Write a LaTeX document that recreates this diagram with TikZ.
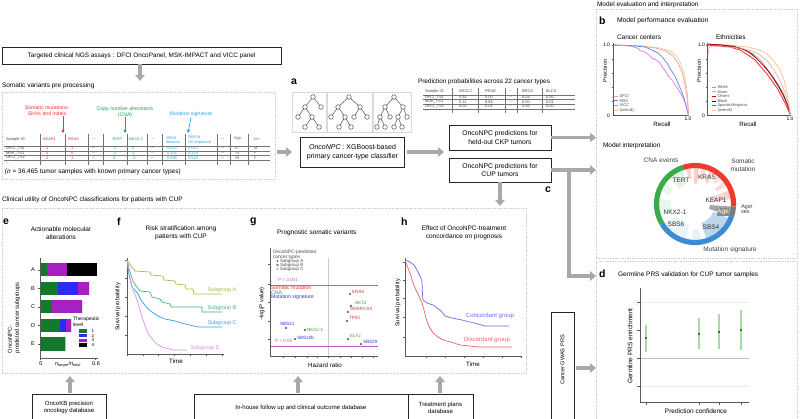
\documentclass[tikz,border=0pt]{standalone}
\usepackage{fontspec}
\setmainfont{Liberation Sans}
\usetikzlibrary{arrows.meta,calc,shapes.geometric}
\definecolor{agray}{HTML}{A9A9A9}
\definecolor{smred}{HTML}{F0303C}
\definecolor{cnagreen}{HTML}{1FA855}
\definecolor{sigblue}{HTML}{2BA6E3}
\definecolor{pmag}{HTML}{CC55CC}
\definecolor{gred}{HTML}{EE3333}
\definecolor{ggreen}{HTML}{33AA33}
\definecolor{gblue}{HTML}{3535E0}
\definecolor{egreen}{HTML}{137A2B}
\definecolor{eblue}{HTML}{2B2BF2}
\definecolor{emag}{HTML}{A521C2}
\definecolor{fA}{HTML}{B6B446}
\definecolor{fB}{HTML}{3DB87A}
\definecolor{fC}{HTML}{3D9BE0}
\definecolor{fD}{HTML}{DA8FE8}
\definecolor{hblue}{HTML}{6B6BEE}
\definecolor{hred}{HTML}{EE5F6B}
\definecolor{bsalmon}{HTML}{F39C9C}
\definecolor{bblue}{HTML}{5C86D8}
\definecolor{bviolet}{HTML}{E27BE2}
\definecolor{borange}{HTML}{F7C893}
\definecolor{dred}{HTML}{EE3B2E}
\definecolor{dgreen}{HTML}{3BAA4A}
\definecolor{dblue}{HTML}{3B8CD0}
\definecolor{dgray}{HTML}{7A7A7A}
\definecolor{prsg}{HTML}{A9D9A9}
\definecolor{prsd}{HTML}{2E7D32}
\newcommand\fsz[2]{\fontsize{#1}{#2}\selectfont}
\newcommand\annsec[5]{\fill[#5] (#1:#3) arc[start angle=#1,end angle=#2,radius=#3] -- (#2:#4) arc[start angle=#2,end angle=#1,radius=#4] -- cycle;}
\tikzset{
  blackbox/.style={draw=black!85, line width=0.75pt, fill=white, align=center, inner sep=1pt},
  regionbox/.style={draw=black!20, line width=0.7pt, densely dotted},
  fatarrow/.style={draw=agray, line width=3.4pt, -{Triangle[length=6pt,width=9.5pt]}},
  plbl/.style={font=\bfseries\fsz{10.5}{11}},
  tn/.style={circle, draw=black!75, fill=white, line width=0.45pt, minimum size=4.6pt, inner sep=0pt},
  tedge/.style={draw=black!75, line width=0.45pt},
  tbox/.style={draw=black!15, line width=0.5pt},
  axln/.style={draw=black!65, line width=0.4pt},
  tk/.style={draw=black!65, line width=0.35pt},
  tabln/.style={draw=black!55, line width=0.4pt},
  t4/.style={font=\fsz{4}{4.6}},
  t45/.style={font=\fsz{4.5}{5.2}},
  t5/.style={font=\fsz{5}{5.8}},
  t55/.style={font=\fsz{5.5}{6.4}},
  t6/.style={font=\fsz{6.2}{7.3}},
  t65/.style={font=\fsz{6.5}{7.6}},
  t7/.style={font=\fsz{7}{8.2}},
  gdot/.style={circle, fill=black!70, minimum size=2.2pt, inner sep=0pt},
}
\begin{document}
\begin{tikzpicture}[x=1pt,y=-1pt, every node/.style={inner sep=0pt, outer sep=0pt}]
\useasboundingbox[fill=white] (0,0) rectangle (800,419);

%================ region boxes =================
\node[regionbox, minimum width=273, minimum height=87, anchor=north west] (sombox) at (2,92) {};
\node[regionbox, minimum width=201, minimum height=249, anchor=north west] (bbox) at (596,9) {};
\node[regionbox, minimum width=201, minimum height=160, anchor=north west] (dbox) at (596,261) {};
\node[regionbox, minimum width=524, minimum height=165, anchor=north west] (cbox) at (2,208) {};

%================ top left =================
\node[blackbox, minimum width=279, minimum height=17, font=\fsz{6.4}{7.6}] (ngs) at (141.5,55.5) {Targeted clinical NGS assays : DFCI OncoPanel, MSK-IMPACT and VICC panel};
\coordinate (somtip) at (140,81);
\draw[fatarrow] (ngs.south -| somtip) -- (somtip);
\node[t65, anchor=west] (somlbl) at (2,86) {Somatic variants pre processing};

\node[font=\fsz{5.2}{6}, text=smred, align=center] (smt) at (47,111) {Somatic mutations:\\SNVs and indels};
\node[font=\fsz{5.2}{6}, text=cnagreen, align=center] (cnat) at (125,112) {Copy number alterations\\(CNA)};
\node[font=\fsz{5.2}{6}, text=sigblue] (sigt) at (191,114) {Mutation signature};
\coordinate (smtip) at (63,133);
\coordinate (cnatip) at (125,133);
\coordinate (sigtip) at (188,133);
\draw[smred, line width=0.7pt, -{Triangle[length=3pt,width=3pt]}] (smt.south -| smtip) -- (smtip);
\draw[cnagreen, line width=0.7pt, -{Triangle[length=3pt,width=3pt]}] (cnat.south -| cnatip) -- (cnatip);
\draw[sigblue, line width=0.7pt, -{Triangle[length=3pt,width=3pt]}] ($(sigt.south)+(0,1)$) -- (sigtip);

% somatic table
\node[t4, anchor=west, text=black!70] (sh0) at (6,139) {Sample ID};
\node[t4, anchor=west, text=smred] (sh1) at (43,139) {KEAP1};
\node[t4, anchor=west, text=smred] (sh2) at (68,139) {KRAS};
\node[t4, anchor=west] (sh3) at (92,139) {...};
\node[t4, anchor=west, text=cnagreen] (sh4) at (112,139) {TERT};
\node[t4, anchor=west, text=cnagreen] (sh5) at (129,139) {NKX2-1};
\node[t4, anchor=west] (sh6) at (151,139) {...};
\node[t4, anchor=west, text=sigblue, align=left] (sh7) at (166,140) {SBS4\\tobacco};
\node[t4, anchor=west, text=sigblue, align=left] (sh8) at (188,140) {SBS7a\\UV exposure};
\node[t4, anchor=west] (sh9) at (221,139) {...};
\node[t4, anchor=west, text=black!60] (sh10) at (234,139) {Age};
\node[t4, anchor=west, text=black!45] (sh11) at (253,139) {Sex};
\foreach \yy in {146,150.8,155.5,160} \draw[tabln] (4,\yy) -- (270,\yy);
\foreach \xx in {40,65,88,103,127,147,162,185,217,230,248} \draw[tabln] (\xx,134) -- (\xx,165);
\foreach \sid/\ka/\kr/\te/\nk/\sa/\sb/\ag/\sx/\yy [count=\i] in {DFCI\_TS1/1/1/-2/0/0.432/0.012/67/M/148.5, MSK\_TS1/3/0/-1/2/0.101/0.133/75/F/153.2, DFCI\_TS2/2/1/2/-1/0.626/0.542/59/F/157.8}{
  \node[t4, anchor=west, text=black!70] (sra\i) at (6,\yy) {\sid};
  \node[t4, anchor=west, text=smred] (srb\i) at (46,\yy) {\ka};
  \node[t4, anchor=west, text=smred] (src\i) at (71,\yy) {\kr};
  \node[t4, anchor=west] (srd\i) at (92,\yy) {...};
  \node[t4, anchor=west, text=cnagreen] (sre\i) at (113,\yy) {\te};
  \node[t4, anchor=west, text=cnagreen] (srf\i) at (132,\yy) {\nk};
  \node[t4, anchor=west] (srg\i) at (151,\yy) {...};
  \node[t4, anchor=west, text=sigblue] (srh\i) at (167,\yy) {\sa};
  \node[t4, anchor=west, text=sigblue] (sri\i) at (188,\yy) {\sb};
  \node[t4, anchor=west] (srj\i) at (221,\yy) {...};
  \node[t4, anchor=west, text=black!60] (srk\i) at (235,\yy) {\ag};
  \node[t4, anchor=west, text=black!60] (srl\i) at (254,\yy) {\sx};
}
\node[t4, anchor=west] (srdots) at (6,163.5) {...};
\node[t65, anchor=west] (nsamp) at (5,172) {(\textit{n} = 36,465 tumor samples with known primary cancer types)};

%================ panel a =================
\node[plbl, anchor=west] (alab) at (291,82) {a};
\node[tbox, minimum width=34, minimum height=40, anchor=north west] (tb1) at (292,92) {};
\node[tbox, minimum width=45, minimum height=40, anchor=north west] (tb2) at (327,92) {};
\node[tbox, minimum width=38, minimum height=40, anchor=north west] (tb3) at (373,92) {};
% tree 1
\node[tn] (t1r) at (313,97) {};
\node[tn] (t1a) at (305,107) {};
\node[tn] (t1b) at (321,107) {};
\node[tn] (t1c) at (298,117) {};
\node[tn] (t1d) at (312,117) {};
\node[tn] (t1e) at (305,127) {};
\node[tn] (t1f) at (319,127) {};
\draw[tedge] (t1r)--(t1a) (t1r)--(t1b) (t1a)--(t1c) (t1a)--(t1d) (t1d)--(t1e) (t1d)--(t1f);
% tree 2
\node[tn] (t2r) at (349,97) {};
\node[tn] (t2a) at (338,107) {};
\node[tn] (t2b) at (360,107) {};
\node[tn] (t2c) at (331,117) {};
\node[tn] (t2d) at (345,117) {};
\node[tn] (t2e) at (354,117) {};
\node[tn] (t2f) at (367,117) {};
\node[tn] (t2g) at (339,127) {};
\node[tn] (t2h) at (351,127) {};
\draw[tedge] (t2r)--(t2a) (t2r)--(t2b) (t2a)--(t2c) (t2a)--(t2d) (t2b)--(t2e) (t2b)--(t2f) (t2d)--(t2g) (t2d)--(t2h);
% tree 3
\node[tn] (t3r) at (394,97) {};
\node[tn] (t3a) at (385,107) {};
\node[tn] (t3b) at (403,107) {};
\node[tn] (t3c) at (380,117) {};
\node[tn] (t3d) at (390,117) {};
\node[tn] (t3e) at (398,117) {};
\node[tn] (t3f) at (407,117) {};
\node[tn] (t3g) at (377,127) {};
\node[tn] (t3h) at (385,127) {};
\node[tn] (t3i) at (394,127) {};
\node[tn] (t3j) at (402,127) {};
\draw[tedge] (t3r)--(t3a) (t3r)--(t3b) (t3a)--(t3c) (t3a)--(t3d) (t3b)--(t3e) (t3b)--(t3f) (t3c)--(t3g) (t3c)--(t3h) (t3e)--(t3i) (t3e)--(t3j);

\node[blackbox, minimum width=104, minimum height=30, font=\fsz{7}{8.4}] (clf) at (352.5,152) {\textit{OncoNPC} : XGBoost-based\\primary cancer-type classifier};
\draw[fatarrow] (sombox.east |- clf.west) ++(2,0) -- (clf.west -| tb1.west);

%================ predictions =================
\node[font=\fsz{6.4}{7.4}, anchor=west] (pptitle) at (418,82) {Prediction probabilities across 22 cancer types};
\node[t4, anchor=west, text=black!70] (ph0) at (425,91) {Sample ID};
\node[t4, anchor=west, text=black!70] (ph1) at (459,91) {NSCLC};
\node[t4, anchor=west, text=black!70] (ph2) at (485,91) {PRAD};
\node[t4, anchor=west, text=black!70] (ph3) at (509,91) {...};
\node[t4, anchor=west, text=black!70] (ph4) at (522,91) {BRCA};
\node[t4, anchor=west, text=black!70] (ph5) at (546,91) {BLCA};
\foreach \yy in {95,99.6,104.2,108.8} \draw[tabln] (423,\yy) -- (575,\yy);
\foreach \xx in {452,478,505,517,542} \draw[tabln] (\xx,88) -- (\xx,113);
\foreach \sid/\va/\vb/\vc/\vd/\yy [count=\i] in {DFCI\_TS1/0.92/0.00/0.04/0.00/97.3, MSK\_TS1/0.11/0.85/0.00/0.01/101.9, DFCI\_TS2/0.01/0.01/0.95/0.00/106.5}{
  \node[t4, anchor=west, text=black!70] (pra\i) at (425,\yy) {\sid};
  \node[t4, anchor=west, text=black!70] (prb\i) at (459,\yy) {\va};
  \node[t4, anchor=west, text=black!70] (prc\i) at (485,\yy) {\vb};
  \node[t4, anchor=west, text=black!70] (prd\i) at (509,\yy) {...};
  \node[t4, anchor=west, text=black!70] (pre\i) at (522,\yy) {\vc};
  \node[t4, anchor=west, text=black!70] (prf\i) at (546,\yy) {\vd};
}
\node[t4, anchor=west] (prdots) at (425,111.5) {...};

\node[blackbox, minimum width=102, minimum height=25, font=\fsz{6.8}{8.2}] (ckp) at (500,137.5) {OncoNPC predictions for\\held-out CKP tumors};
\node[blackbox, minimum width=102, minimum height=24, font=\fsz{6.8}{8.2}] (cup) at (500,170) {OncoNPC predictions for\\CUP tumors};
\coordinate (clfend) at (444,152);
\draw[fatarrow] (clf.east) ++(2,0) -- (clfend);

\draw[fatarrow] (ckp.east) -- (bbox.west |- ckp.east);
\coordinate (cupcorner) at (569,170);
\coordinate (cupdown) at (569,276);
\draw[fatarrow] (cup.east) -- (bbox.west |- cup.east);
\draw[fatarrow] (cupcorner) -- (cupdown) -- (dbox.west |- cupdown);
\coordinate (cuptip) at (500,206);
\draw[fatarrow] (cup.south) -- (cuptip);
\node[plbl] (clab) at (548,190) {c};

%================ panel b =================
\node[t65, anchor=west] (mei) at (597,4.5) {Model evaluation and interpretation};
\node[plbl, anchor=west] (blab) at (599,21) {b};
\node[font=\fsz{6.8}{7.6}, anchor=west] (mpe) at (617,21) {Model performance evaluation};
\node[t65, anchor=west] (cct) at (617,37) {Cancer centers};
\node[t65, anchor=west] (etht) at (716,37) {Ethnicities};
% cancer centers axes
\draw[axln] (613,43) -- (613,115) -- (689,115);
\foreach \yy in {45,59,73,87,101} \draw[tk] (611.5,\yy) -- (613,\yy);
\foreach \xx in {628,643,658,673,688} \draw[tk] (\xx,115) -- (\xx,116.5);
\node[t5, anchor=east] (ccy1) at (610,45) {1.0};
\node[t5, anchor=east] (ccy0) at (610,116) {0};
\node[t5] (ccx1) at (688,119) {1.0};
\node[t6] (ccrec) at (662,124) {Recall};
\node[t55, rotate=90] (ccprec) at (605,71) {Precision};
\draw[borange, line width=0.7pt] plot coordinates {(614,45) (643,46) (660,48) (670,51) (676,55) (680,62) (683,70) (685,78) (687,90) (688,102) (688.5,114)};
\draw[bsalmon, line width=0.7pt] plot coordinates {(614,45) (640,46) (655,48) (666,51) (673,56) (678,63) (682,72) (685,84) (687,97) (688.5,114)};
\draw[bblue, line width=0.7pt] plot coordinates {(614,45) (635,46) (645,47) (652,50) (658,53) (663,58) (667,63) (671,70) (675,76) (678,83) (681,90) (684,98) (686,105) (688,114)};
\draw[bviolet, line width=0.7pt] plot coordinates {(614,45) (630,46) (637,48) (641,51) (645,52) (649,55) (652,58) (656,60) (660,63) (663,68) (666,72) (669,77) (672,80) (675,85) (678,89) (681,94) (684,100) (686,106) (688,114)};
\foreach \c/\t/\yy [count=\i] in {bsalmon/DFCI/96, bblue/MSK/100.8, bviolet/VICC/105.6, borange/(overall)/110.4}{
  \draw[\c, line width=0.7pt] (614,\yy) -- (618,\yy);
  \node[t4, anchor=west, text=black!70] (ccl\i) at (619.5,\yy) {\t};
}
% ethnicities axes
\draw[axln] (707,43) -- (707,115) -- (791,115);
\foreach \yy in {45,59,73,87,101} \draw[tk] (705.5,\yy) -- (707,\yy);
\foreach \xx in {724,740,757,773,790} \draw[tk] (\xx,115) -- (\xx,116.5);
\node[t5, anchor=east] (ety1) at (705,45) {1.0};
\node[t5, anchor=east] (ety0) at (705,116) {0};
\node[t5] (etx1) at (790,119) {1.0};
\node[t6] (etrec) at (748,124) {Recall};
\node[t55, rotate=90] (etprec) at (699,71) {Precision};
\draw[borange, line width=0.8pt] plot coordinates {(707,44) (730,45) (747,47) (760,50) (767,54) (774,61) (780,70) (784,80) (787,93) (789,104) (790,114)};
\draw[black!40, line width=0.6pt] plot coordinates {(707,45) (725,46) (740,48) (750,52) (757,57) (763,63) (768,70) (773,77) (778,84) (783,93) (787,103) (790,114)};
\draw[black!85, line width=0.6pt] plot coordinates {(707,44) (722,45) (735,47) (745,50) (752,54) (758,60) (764,66) (769,72) (774,79) (779,87) (784,96) (788,106) (790,114)};
\draw[red!75!black, line width=0.6pt] plot coordinates {(707,44) (720,45) (733,46) (743,49) (750,53) (756,58) (762,64) (768,71) (773,78) (778,86) (783,95) (787,104) (790,114)};
\draw[red!85!white, line width=0.8pt] plot coordinates {(707,45) (718,46) (730,47) (740,50) (748,55) (755,60) (761,67) (767,74) (772,81) (777,88) (782,97) (786,105) (790,114)};
\draw[hred!60!white, line width=0.6pt] plot coordinates {(708,55) (709,48) (712,46) (725,47) (740,48) (752,51) (760,55) (768,62) (774,70) (779,79) (784,90) (788,102) (790,114)};
\foreach \c/\t/\yy [count=\i] in {black!40/White/87, hred!60!white/Asian/91.7, red!75!black/Others/96.4, black!85/Black/101.1, red!85!white/{Spanish/hispanic}/105.8, borange/(overall)/110.5}{
  \draw[\c, line width=0.7pt] (712,\yy) -- (716,\yy);
  \node[t4, anchor=west, text=black!70] (etl\i) at (717.5,\yy) {\t};
}
% model interpretation
\node[t65, anchor=west] (mint) at (603,146) {Model interpretation};
\begin{scope}[shift={(695,204)}, yscale=-1]
  \annsec{104}{97}{36}{26}{dred!22}
  \annsec{92}{84}{36}{20}{dred!25}
  \annsec{80}{72}{36}{27}{dred!18}
  \annsec{66}{58}{36}{24}{dred!20}
  \annsec{52}{44}{36}{29}{dred!15}
  \annsec{38}{30}{36}{25}{dred!18}
  \annsec{22}{8}{36}{17}{dred!22}
  \annsec{-4}{-19}{36}{15}{black!35}
  \annsec{-23}{-72}{36}{20}{dblue!35}
  \annsec{-80}{-95}{36}{26}{dblue!12}
  \annsec{-105}{-148}{36}{22}{dblue!10}
  \annsec{198}{172}{36}{24}{dgreen!12}
  \annsec{160}{145}{36}{27}{dgreen!10}
  \annsec{135}{110}{36}{22}{dgreen!14}
  \draw[dred, line width=5.2pt] (108:38.5) arc[start angle=108, end angle=-4, radius=38.5];
  \draw[dgray, line width=5.2pt] (-4:38.5) arc[start angle=-4, end angle=-19, radius=38.5];
  \draw[dblue, line width=5.2pt] (-19:38.5) arc[start angle=-19, end angle=-149, radius=38.5];
  \draw[dgreen, line width=5.2pt] (211:38.5) arc[start angle=211, end angle=108, radius=38.5];
\end{scope}
\node[t65, text=black!75] (dcna) at (661,160) {CNA events};
\node[t65, text=black!75, align=center] (dsom) at (743,165) {Somatic\\mutation};
\node[t65, text=black!80] (dtert) at (681,180) {TERT};
\node[t65, text=black!80] (dkras) at (707,177) {KRAS};
\node[t65, text=black!80] (dkeap) at (716,200) {KEAP1};
\node[t65, text=white, fill=black!45, inner sep=0.6pt] (dage) at (723,212) {Age};
\node[font=\fsz{5.6}{5.8}, text=black!75, align=left, anchor=west] (dagesex) at (741,209) {Age/\\sex};
\node[t65, text=black!80] (dnkx) at (675,212) {NKX2-1};
\node[t65, text=black!80] (dsbs6) at (676,224) {SBS6};
\node[t65, text=black!80] (dsbs4) at (711,227) {SBS4};
\node[t65, text=black!75] (dmut) at (730,250) {Mutation signature};

%================ panel d =================
\node[plbl, anchor=west] (dlab) at (599,274) {d};
\node[t65, anchor=west] (dtitle) at (618,275) {Germline PRS validation for CUP tumor samples};
\draw[black!8, line width=0.5pt] (640,302) -- (749,302) (640,386) -- (749,386);
\draw[black!25, line width=0.5pt] (640,358) -- (749,358);
\draw[axln] (640,288) -- (640,402) -- (749,402);
\foreach \yy in {302,330,358,386} \draw[tk] (637,\yy) -- (640,\yy);
\foreach \xx/\ya/\yb/\ym [count=\i] in {646/325/352/338, 699/318/349/334, 719/314/349/332, 741/310/350/330}{
  \draw[tk] (\xx,402) -- (\xx,405);
  \draw[prsg, line width=1.1pt] (\xx,\ya) -- (\xx,\yb);
  \node[fill=prsd, minimum size=1.8pt] (prs\i) at (\xx,\ym) {};
}
\node[t65, rotate=90] (prsy) at (630,346) {Germline PRS enrichment};
\node[t65] (prsx) at (696,411) {Prediction confidence};
\node[blackbox, minimum width=23, minimum height=118, anchor=north west] (gwas) at (551,312) {};
\node[font=\fsz{5.6}{6}, rotate=90] (gwast) at (562.5,360) {Cancer GWAS PRS};
\coordinate (gwasy) at (0,368);
\draw[fatarrow] ($(gwas.east |- gwasy)+(2,0)$) -- (dbox.west |- gwasy);

%================ clinical utility =================
\node[t65, anchor=west] (cutl) at (2,200) {Clinical utility of OncoNPC classifications for patients with CUP};
% e
\node[plbl, anchor=west] (elab) at (3,222) {e};
\node[t65, align=center] (etitle) at (61,233) {Actionable molecular\\alterations};
\node[font=\fsz{5.7}{6.8}, rotate=90, anchor=north west, align=left] (eylab) at (8,353) {OncoNPC-\\predicted cancer subgroups};
\draw[axln] (40,258) -- (40,358) -- (98,358);
\foreach \xx in {40,95} \draw[tk] (\xx,358) -- (\xx,360);
\foreach \yc/\g/\b/\m/\k/\lt [count=\i] in {270/47/47/67/97/A, 288.5/58/78/89/89/B, 307/52/52/82/82/C, 325.5/60/66/71/71/D, 344/65/65/65/65/E}{
  \fill[egreen] (41,\yc-6.5) rectangle (\g,\yc+6.5);
  \fill[eblue] (\g,\yc-6.5) rectangle (\b,\yc+6.5);
  \fill[emag] (\b,\yc-6.5) rectangle (\m,\yc+6.5);
  \fill[black] (\m,\yc-6.5) rectangle (\k,\yc+6.5);
  \draw[tk] (38,\yc) -- (40,\yc);
  \node[t55] (elt\i) at (33,\yc) {\lt};
}
\node[t5, anchor=west, align=left] (eleg) at (73,322) {Therapeutic\\level};
\foreach \c/\t/\yy [count=\i] in {egreen/1/331, eblue/2/335.7, emag/3/340.4, black/4/345.1}{
  \fill[\c] (79,\yy-1.6) rectangle (87,\yy+1.6);
  \node[t45] (eln\i) at (93,\yy) {\t};
}
\node[t55] (ex0) at (41,364) {0};
\node[t55] (exl) at (68,364.5) {\textit{n}\textsubscript{target}/\textit{n}\textsubscript{total}};
\node[t55] (ex6) at (96,364) {0.6};
% f
\node[plbl, anchor=west] (flab) at (117,222) {f};
\node[t65, align=center] (ftitle) at (181,233) {Risk stratification among\\patients with CUP};
\draw[axln] (127,258) -- (127,354) -- (224,354);
\foreach \yy in {260,278,297,316,335} \draw[tk] (125,\yy) -- (127,\yy);
\foreach \k in {0,...,6} \draw[tk] (127+\k*15.8,354) -- (127+\k*15.8,356);
\draw[fA, line width=0.7pt] plot coordinates {(127,260) (131,266) (135,271) (150,272) (151,275) (163,276) (164,280) (175,281) (176,284) (185,285) (186,289) (193,289) (194,294) (222,294)};
\draw[fB, line width=0.7pt] plot coordinates {(127,260) (130,272) (133,281) (136,286) (140,291) (150,292) (152,297) (160,299) (162,302) (170,304) (171,307) (202,307) (202,312) (222,312)};
\draw[fC, line width=0.7pt] plot coordinates {(127,260) (129,275) (132,287) (135,290) (138,294) (141,300) (144,304) (148,309) (152,312) (158,316) (165,319) (175,321) (185,324) (198,327) (222,327)};
\draw[fD, line width=0.7pt] plot coordinates {(127,260) (129,273) (132,286) (134,292) (137,300) (140,310) (143,320) (146,328) (149,335) (153,340) (157,344) (162,347) (173,350) (187,350)};
\node[font=\fsz{5.4}{6}, text=fA] (fla) at (222,290) {Subgroup A};
\node[font=\fsz{5.4}{6}, text=fB] (flb) at (222,308) {Subgroup B};
\node[font=\fsz{5.4}{6}, text=fC] (flc) at (222,323) {Subgroup C};
\node[font=\fsz{5.4}{6}, text=fD] (fld) at (205,348) {Subgroup D};
\node[font=\fsz{5.7}{6.4}, rotate=90] (fylab) at (118,307) {Survival probability};
\node[t6] (fxlab) at (176,361) {Time};
% g
\node[plbl, anchor=west] (glab) at (250,222) {g};
\node[t65, anchor=west] (gtitle) at (277,233) {Prognostic somatic variants};
\draw[black!20, line width=0.5pt] (328,258) -- (328,356);
\draw[pmag, line width=0.5pt] (270,285) -- (378,285) (270,346) -- (378,346);
\draw[axln] (270,248) -- (270,356) -- (378,356);
\foreach \yy in {264,284,302,321,339} \draw[tk] (268,\yy) -- (270,\yy);
\foreach \xx in {283,295,307,317,328,340,351,362,373} \draw[tk] (\xx,356) -- (\xx,358);
\node[font=\fsz{4.8}{4.6}, anchor=west, text=black!70, align=left] (glegt) at (273,255) {OncoNPC-predicted\\cancer types};
\node[circle, fill=black!75, minimum size=1.8pt] (gm1) at (277.5,261) {};
\node[circle, draw=black!55, minimum size=2pt, line width=0.4pt] (gm2) at (277.5,265) {};
\node[circle, draw=black!30, minimum size=2pt, line width=0.4pt] (gm3) at (277.5,269) {};
\node[font=\fsz{4.4}{5}, anchor=west, text=black!70] (gsa) at (280,261) {Subgroup A};
\node[font=\fsz{4.4}{5}, anchor=west, text=black!70] (gsb) at (280,265) {Subgroup B};
\node[font=\fsz{4.4}{5}, anchor=west, text=black!70] (gsc) at (280,269) {Subgroup C};
\node[font=\fsz{4.6}{5}, text=pmag, anchor=west] (gp1) at (278,280) {\textit{P} = 0.001};
\node[font=\fsz{4.6}{5}, text=pmag, anchor=west] (gp2) at (275,340.5) {\textit{P} = 0.05};
\node[font=\fsz{5.2}{5}, text=gred, anchor=west] (gl1) at (271,288) {Somatic mutation};
\node[font=\fsz{5.2}{5}, text=ggreen, anchor=west] (gl2) at (271,292.5) {CNA};
\node[font=\fsz{5.2}{5}, text=gblue, anchor=west] (gl3) at (271,297) {Mutation signature};
\foreach \px/\py/\lx/\ly/\c/\t [count=\i] in {350/294/352/291.5/gred/KRAS, 351/306/355/302.5/ggreen/AKT2, 348/312/350/309/gred/SMARCA4, 347/321/349/318/gred/TP53, 286/328/280/323.5/gblue/SBS31, 305/330/307/330/ggreen/NKX2-1, 295/339/297/338/gblue/SBS10b, 348/339/350/336/ggreen/ELF2, 361/344/363/342/gblue/SBS29}{
  \node[gdot] (gpt\i) at (\px,\py) {};
  \node[font=\fsz{4.6}{5}, text=\c, anchor=west] (gptl\i) at (\lx,\ly) {\t};
}
\node[font=\fsz{5.7}{6.4}, rotate=90] (gylab) at (262,304) {−log(\textit{P} value)};
\node[t6] (gxlab) at (325,365) {Hazard ratio};
% h
\node[plbl, anchor=west] (hlab) at (401,222) {h};
\node[t65, align=center] (htitle) at (464,233) {Effect of OncoNPC-treatment\\concordance on prognosis};
\draw[axln] (405,258) -- (405,356) -- (521,356);
\foreach \yy in {262,280,298,317,337} \draw[tk] (403,\yy) -- (405,\yy);
\foreach \xx in {426,445,464,483,502,521} \draw[tk] (\xx,356) -- (\xx,358);
\draw[hblue, line width=0.7pt] plot coordinates {(405,260) (410,262) (414,265) (417,270) (420,276) (422,281) (422.5,295) (423,300) (427,303) (433,305) (437,308) (441,311) (445,316) (452,318) (462,320) (470,322) (478,324) (485,326) (509,326)};
\draw[hred, line width=0.7pt] plot coordinates {(405,260) (408,268) (411,276) (413,283) (416,290) (419,296) (422,303) (424,310) (426,318) (428,324) (431,330) (434,334) (438,337) (443,340) (451,342) (460,345) (470,346) (478,347) (512,347)};
\node[font=\fsz{6}{6.6}, text=hblue] (hlc) at (490,316) {Concordant group};
\node[font=\fsz{6}{6.6}, text=hred] (hld) at (487,340) {Discordant group};
\node[font=\fsz{5.7}{6.4}, rotate=90] (hylab) at (398,303) {Survival probability};
\node[t6] (hxlab) at (473,364) {Time};

%================ bottom boxes =================
\node[blackbox, minimum width=74, minimum height=27, anchor=north west, font=\fsz{6}{7}] (okb) at (32,394) {OncoKB precision\\oncology database};
\node[blackbox, minimum width=214, minimum height=27, anchor=north west, font=\fsz{6}{7}] (inh) at (194,394) {In-house follow up and clinical outcome database};
\node[blackbox, minimum width=65, minimum height=27, anchor=north west, font=\fsz{6}{7}] (trt) at (408,394) {Treatment plans\\database};
\coordinate (okbtip) at (70,376);
\coordinate (inhtip) at (298,376);
\coordinate (trttip) at (440,376);
\draw[fatarrow] ($(okb.north -| okbtip)+(0,-1)$) -- (okbtip);
\draw[fatarrow] ($(inh.north -| inhtip)+(0,-1)$) -- (inhtip);
\draw[fatarrow] ($(trt.north -| trttip)+(0,-1)$) -- (trttip);
\end{tikzpicture}
\end{document}
